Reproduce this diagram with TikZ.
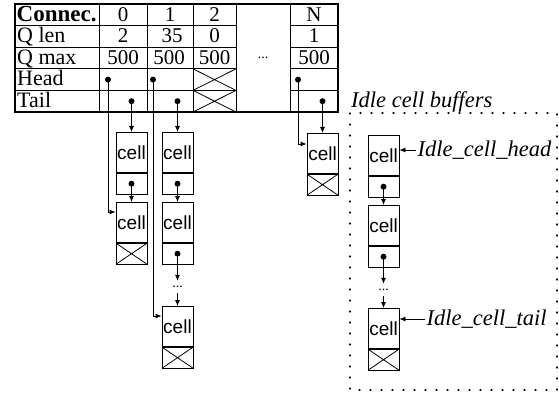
\documentclass[tikz,border=0pt]{standalone}
\usepackage{fontspec}
\setmainfont{Liberation Serif}
\newfontfamily\cellfont{Liberation Sans}
\usetikzlibrary{arrows.meta,calc}
\begin{document}
\begin{tikzpicture}[x=1pt,y=-1pt,
  tabline/.style={line width=0.8pt},
  lab/.style={anchor=base west, inner sep=0pt, font=\fontsize{22}{22}\selectfont},
  num/.style={anchor=base, inner sep=0pt, font=\fontsize{21}{21}\selectfont},
  crosspic/.style={path picture={\draw[line width=0.8pt] (path picture bounding box.north west) -- (path picture bounding box.south east) (path picture bounding box.south west) -- (path picture bounding box.north east);}},
  celltop/.style={draw, line width=0.8pt, minimum width=31pt, minimum height=40pt, inner sep=0pt, anchor=north, font=\cellfont\fontsize{19}{19}\selectfont},
  cellptr/.style={draw, line width=0.8pt, minimum width=31pt, minimum height=21pt, inner sep=0pt, anchor=north},
  xptr/.style={cellptr, crosspic},
  xcell/.style={draw, line width=0.8pt, inner sep=0pt, minimum width=43pt, minimum height=21.6pt, crosspic},
  ptdot/.style={circle, fill, inner sep=0pt, minimum size=6pt},
  arr/.style={line width=0.8pt, -{Latex[length=6pt,width=5pt]}},
  ell/.style={inner sep=0pt, minimum height=12pt, font=\fontsize{14}{14}\selectfont},
  idle/.style={font=\itshape\fontsize{22.5}{22.5}\selectfont, inner sep=1.5pt},
  dotbox/.style={line width=1.2pt, dash pattern=on 1pt off 10pt, line cap=round}
]
\useasboundingbox (0,0) rectangle (559,393);

% table grid
\draw[line width=1.1pt] (15,4) rectangle (338,112);
\foreach \y in {25.6,47.2,68.8,90.4} {
  \draw[tabline] (15,\y) -- (236,\y);
  \draw[tabline] (290,\y) -- (338,\y);
}
\foreach \x in {99,147,193,236,290} \draw[tabline] (\x,4) -- (\x,112);
\node[xcell] (h2) at (214.5,79.6) {};
\node[xcell] (t2) at (214.5,101.2) {};

% row labels
\node[lab, font=\bfseries\fontsize{23}{23}\selectfont] (lc) at (16.5,21.5) {Connec.};
\node[lab] (lq) at (17,43) {Q len};
\node[lab] (lm) at (17,64.5) {Q max};
\node[lab] (lh) at (17,86) {Head};
\node[lab] (lt) at (17,107.5) {Tail};

% values
\node[num] (n00) at (123,21.5) {0};
\node[num] (n01) at (123,43) {2};
\node[num] (n02) at (123,64.5) {500};
\node[num] (n10) at (170,21.5) {1};
\node[num] (n11) at (172,43) {35};
\node[num] (n12) at (169,64.5) {500};
\node[num] (n20) at (214.5,21.5) {2};
\node[num] (n21) at (214.5,43) {0};
\node[num] (n22) at (214.5,64.5) {500};
\node[num] (nN0) at (314,21.5) {N};
\node[num] (nN1) at (314,43) {1};
\node[num] (nN2) at (314,64.5) {500};
\node[ell] (te) at (263,58) {...};

% head / tail pointers
\node[ptdot] (h0) at (108,79.6) {};
\node[ptdot] (t0) at (131.5,101.2) {};
\node[ptdot] (h1) at (153,79.6) {};
\node[ptdot] (t1) at (177.5,101.2) {};
\node[ptdot] (hN) at (298,79.6) {};
\node[ptdot] (tN) at (322.5,101.2) {};

% connection 0 queue
\node[celltop] (c01) at (131.5,132) {cell};
\node[cellptr] (p01) at (c01.south) {};
\node[ptdot] (d01) at (p01.center) {};
\node[celltop] (c02) at (131.5,202) {cell};
\node[xptr] (p02) at (c02.south) {};

% connection 1 queue
\node[celltop] (c11) at (177.5,132) {cell};
\node[cellptr] (p11) at (c11.south) {};
\node[ptdot] (d11) at (p11.center) {};
\node[celltop] (c12) at (177.5,202) {cell};
\node[cellptr] (p12) at (c12.south) {};
\node[ptdot] (d12) at (p12.center) {};
\node[ell] (e1) at (177.5,287) {...};
\node[celltop] (c13) at (177.5,306) {cell};
\node[xptr] (p13) at (c13.south) {};

% connection N queue
\node[celltop] (cN) at (322.5,133) {cell};
\node[xptr] (pN) at (cN.south) {};

% connectors
\draw[arr] (t0.center) -- (c01.north);
\draw[arr] (d01.center) -- (c02.north);
\draw[arr] (h0.center) |- ($(c02.north west)+(0,10)$);
\draw[arr] (t1.center) -- (c11.north);
\draw[arr] (d11.center) -- (c12.north);
\draw[arr] (d12.center) -- (e1.north);
\draw[arr] (e1.south) -- (c13.north);
\draw[arr] (h1.center) |- ($(c13.north west)+(0,10)$);
\draw[arr] (tN.center) -- (cN.north);
\draw[arr] (hN.center) |- ($(cN.north west)+(0,11)$);

% idle cell buffers
\draw[dotbox] (350,113) rectangle (557,390);
\node[idle, anchor=base west, inner sep=0pt] (ib) at (351,108) {Idle cell buffers};
\node[celltop] (i1) at (383.5,135) {cell};
\node[cellptr] (q1) at (i1.south) {};
\node[ptdot] (j1) at (q1.center) {};
\node[celltop] (i2) at (383.5,205) {cell};
\node[cellptr] (q2) at (i2.south) {};
\node[ptdot] (j2) at (q2.center) {};
\node[ell] (ie) at (383.5,290) {...};
\node[celltop] (i3) at (383.5,308) {cell};
\node[xptr] (q3) at (i3.south) {};
\draw[arr] (j1.center) -- (i2.north);
\draw[arr] (j2.center) -- (ie.north);
\draw[arr] (ie.south) -- (i3.north);

\node[idle, anchor=west] (ihl) at (416,150) {Idle\_cell\_head};
\draw[arr] (ihl.west) -- (i1.east |- ihl.west);
\node[idle, anchor=west] (itl) at (425,319) {Idle\_cell\_tail};
\draw[arr] (itl.west) -- (i3.east |- itl.west);
\end{tikzpicture}
\end{document}
